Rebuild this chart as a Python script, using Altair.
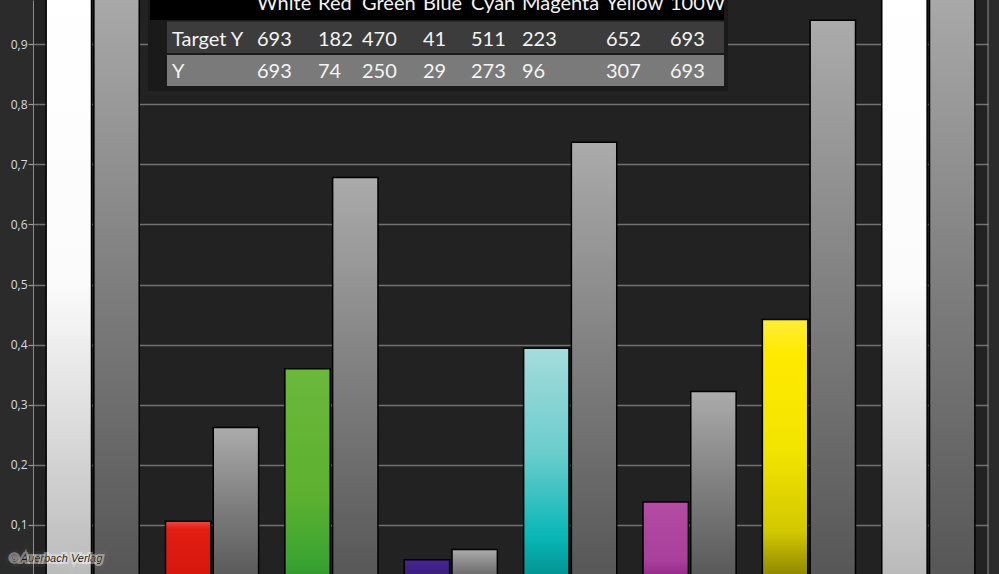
import altair as alt
import pandas as pd

# ---------------- data ----------------
categories = ["White", "Red", "Green", "Blue", "Cyan", "Magenta", "Yellow", "100W"]
target_y = ["693", "182", "470", "41", "511", "223", "652", "693"]
measured_y = ["693", "74", "250", "29", "273", "96", "307", "693"]
# bar heights (relative luminance)
measured_rel = [1.0, 0.106, 0.360, 0.042, 0.394, 0.138, 0.442, 1.0]
target_rel = [1.0, 0.262, 0.678, 0.059, 0.737, 0.322, 0.940, 1.0]
measured_style = ["white", "red", "green", "blue", "cyan", "magenta", "yellow", "white"]
y_ticks = [0.1, 0.2, 0.3, 0.4, 0.5, 0.6, 0.7, 0.8, 0.9]
row_labels = ["Target Y", "Y"]
credit = "© Auerbach Verlag"

# ---------------- layout (pixels) ----------------
PLOT_LEFT = 33
PLOT_W = 955
PLOT_H = 574
COL_X = [257, 318, 362, 423, 471, 522, 606, 670]
LABEL_X = 172
ROW_BASE = [9.5, 45.5, 77.5]
FONT = "Lato"

rows = []
for i, c in enumerate(categories):
    rows.append({"cat": c, "kind": "m", "v": measured_rel[i], "style": measured_style[i]})
    rows.append({"cat": c, "kind": "t", "v": target_rel[i], "style": "gray"})
bars_df = pd.DataFrame(rows)


def grad(stops):
    return alt.Gradient(
        gradient="linear", x1=0, x2=0, y1=0, y2=1,
        stops=[alt.GradientStop(offset=o, color=c) for o, c in stops],
    )


gradients = {
    "gray": grad([(0, "#ababab"), (0.5, "#7e7e7e"), (1, "#555555")]),
    "white": grad([(0, "#ffffff"), (0.5, "#fbfbfb"), (1, "#b8b8b8")]),
    "red": grad([(0, "#ec4a40"), (0.12, "#e21e12"), (1, "#d4140a")]),
    "green": grad([(0, "#6cb83c"), (0.6, "#5cb030"), (0.9, "#3aa432"), (1, "#2c8a28")]),
    "blue": grad([(0, "#46248e"), (1, "#361c78")]),
    "cyan": grad([(0, "#a6dcdc"), (0.45, "#6acccc"), (0.8, "#08b6b6"), (1, "#008a8a")]),
    "magenta": grad([(0, "#b44ca4"), (0.7, "#a8409c"), (1, "#8c1c80")]),
    "yellow": grad([(0, "#ffec3c"), (0.12, "#ffea00"), (0.5, "#f2e400"), (0.8, "#d2c800"), (1, "#807a00")]),
}

xscale = alt.Scale(domain=categories, paddingInner=0.22, paddingOuter=0.11)
yscale = alt.Scale(domain=[0.0182, 0.9736], zero=False, nice=False)
yaxis = alt.Axis(
    values=y_ticks,
    labelExpr="replace(format(datum.value, '.1f'), '.', ',')",
    grid=True, gridColor="#727272", gridWidth=1.5,
    domainColor="#8c8c8c", domainWidth=1,
    tickColor="#9c9c9c", tickSize=5, tickWidth=1.2,
    labelColor="#d3dbea", labelFont="Open Sans", labelFontSize=12, labelPadding=1,
    title=None,
)

base = alt.Chart(bars_df)
bar_layers = []
for style, g in gradients.items():
    bar_layers.append(
        base.transform_filter(alt.datum.style == style)
        .mark_bar(fill=g, stroke="#000000", strokeWidth=1.5, clip=True)
        .encode(
            x=alt.X("cat:N", scale=xscale, axis=None, sort=categories),
            xOffset=alt.XOffset("kind:N", scale=alt.Scale(domain=["m", "t"], paddingInner=0.05)),
            y=alt.Y("v:Q", scale=yscale, axis=yaxis),
            y2=alt.datum(0),
        )
    )
bars = alt.layer(*bar_layers)

one = pd.DataFrame({"a": [0]})
frame_right = alt.Chart(one).mark_rule(color="#8c8c8c", strokeWidth=1).encode(
    x=alt.value(PLOT_W), y=alt.value(0), y2=alt.value(PLOT_H)
)

# table backgrounds
shadow = alt.Chart(one).mark_rect(fill="#1a1a1a").encode(
    x=alt.value(148 - PLOT_LEFT), x2=alt.value(728 - PLOT_LEFT), y=alt.value(0), y2=alt.value(91)
)
header_bg = alt.Chart(one).mark_rect(fill="#000000").encode(
    x=alt.value(150 - PLOT_LEFT), x2=alt.value(724 - PLOT_LEFT), y=alt.value(0), y2=alt.value(20)
)
row1_bg = alt.Chart(one).mark_rect(fill="#3c3c3c").encode(
    x=alt.value(167 - PLOT_LEFT), x2=alt.value(724 - PLOT_LEFT), y=alt.value(21.5), y2=alt.value(53)
)
row2_bg = alt.Chart(one).mark_rect(fill="#7a7a7a").encode(
    x=alt.value(167 - PLOT_LEFT), x2=alt.value(724 - PLOT_LEFT), y=alt.value(55), y2=alt.value(86)
)

trows = []
for i, c in enumerate(categories):
    trows.append({"t": c, "px": COL_X[i] - PLOT_LEFT, "py": ROW_BASE[0]})
    trows.append({"t": target_y[i], "px": COL_X[i] - PLOT_LEFT, "py": ROW_BASE[1]})
    trows.append({"t": measured_y[i], "px": COL_X[i] - PLOT_LEFT, "py": ROW_BASE[2]})
trows.append({"t": row_labels[0], "px": LABEL_X - PLOT_LEFT, "py": ROW_BASE[1]})
trows.append({"t": row_labels[1], "px": LABEL_X - PLOT_LEFT, "py": ROW_BASE[2]})
table_text = alt.Chart(pd.DataFrame(trows)).mark_text(
    align="left", baseline="alphabetic", font=FONT, fontSize=20, color="#f4f4f4"
).encode(
    x=alt.X("px:Q", scale=None), y=alt.Y("py:Q", scale=None), text="t:N"
)

cred_df = pd.DataFrame({"t": [credit]})
cred_glow2 = alt.Chart(cred_df).mark_text(
    align="left", baseline="alphabetic", font="Liberation Sans", fontStyle="italic", fontSize=11,
    stroke="#ffffff", strokeWidth=10, strokeOpacity=0.12, color="#ffffff", opacity=0.15
).encode(x=alt.value(10 - PLOT_LEFT), y=alt.value(562), text="t:N")
cred_glow = alt.Chart(cred_df).mark_text(
    align="left", baseline="alphabetic", font="Liberation Sans", fontStyle="italic", fontSize=11,
    stroke="#ffffff", strokeWidth=4, strokeOpacity=0.4, color="#ffffff"
).encode(x=alt.value(10 - PLOT_LEFT), y=alt.value(562), text="t:N")
cred = alt.Chart(cred_df).mark_text(
    align="left", baseline="alphabetic", font="Liberation Sans", fontStyle="italic", fontSize=11,
    color="#151515"
).encode(x=alt.value(10 - PLOT_LEFT), y=alt.value(562), text="t:N")

chart = alt.layer(
    bars, frame_right, shadow, header_bg, row1_bg, row2_bg, table_text, cred_glow2, cred_glow, cred
).resolve_scale(x="independent", y="independent").properties(
    width=PLOT_W, height=PLOT_H,
    padding={"left": PLOT_LEFT, "top": 0, "right": 999 - PLOT_LEFT - PLOT_W, "bottom": 0},
    autosize="none", background="#2b2b2b",
).configure_view(fill="#222222", stroke=None)

chart.save("out.html", embed_options={"renderer": "svg", "actions": False})
